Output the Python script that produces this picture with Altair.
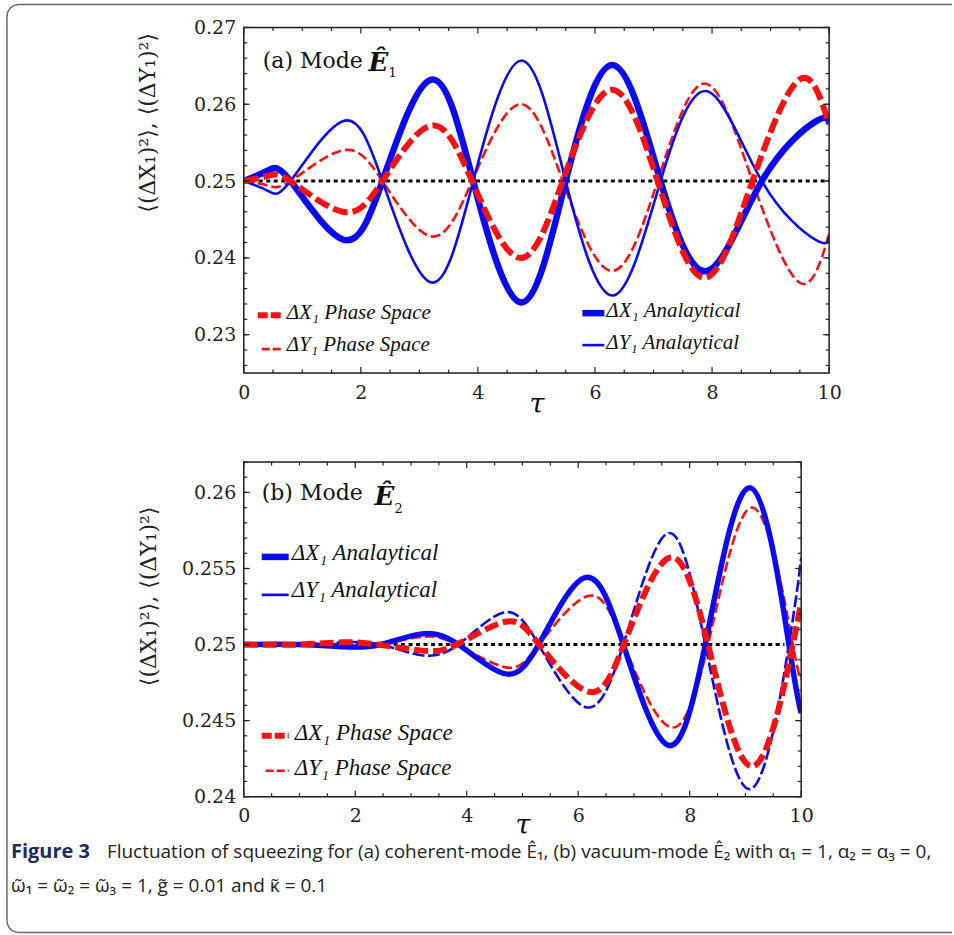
import altair as alt
import pandas as pd

# ---------------- panel (a): coherent mode E1 ----------------
a_t_analytical = [0, 0.42, 0.8, 1.69, 2.37, 3.2, 3.92, 4.74, 5.5, 6.31, 7.12, 7.92, 8.85, 9.78, 10]
a_dx_analytical = [0.25, 0.2514, 0.25, 0.2424, 0.25, 0.2632, 0.25, 0.2342, 0.25, 0.2651, 0.25, 0.2383, 0.25, 0.2578, 0.2575]
a_dy_analytical = [0.25, 0.2487, 0.25, 0.2578, 0.25, 0.2368, 0.25, 0.2657, 0.25, 0.2351, 0.25, 0.2617, 0.25, 0.2423, 0.2428]

a_t_phase = [0, 0.42, 0.8, 1.69, 2.37, 3.2, 3.9, 4.71, 5.45, 6.28, 7.07, 7.87, 8.69, 9.49, 10]
a_dx_phase = [0.25, 0.2507, 0.25, 0.2460, 0.25, 0.2572, 0.25, 0.2400, 0.25, 0.2619, 0.25, 0.2374, 0.25, 0.2632, 0.2574]
a_dy_phase = [0.25, 0.2494, 0.25, 0.2540, 0.25, 0.2428, 0.25, 0.2600, 0.25, 0.2383, 0.25, 0.2627, 0.25, 0.2368, 0.2431]

a_ref_t = [0, 10]
a_ref_v = [0.25, 0.25]

# ---------------- panel (b): vacuum mode E2 ----------------
b_t_analytical = [0, 1.0, 1.8, 2.45, 3.19, 3.85, 4.66, 5.29, 6.12, 6.81, 7.6, 8.28, 9.09, 9.78, 10]
b_dx_analytical = [0.25, 0.25, 0.24985, 0.25, 0.2507, 0.25, 0.2481, 0.25, 0.2544, 0.25, 0.2434, 0.25, 0.2603, 0.25, 0.2455]
b_dy_analytical = [0.25, 0.25, 0.25015, 0.25, 0.2493, 0.25, 0.2521, 0.25, 0.2459, 0.25, 0.2573, 0.25, 0.2405, 0.25, 0.2557]

b_t_phase = [0, 1.0, 1.8, 2.4, 3.2, 3.82, 4.7, 5.3, 6.18, 6.82, 7.63, 8.33, 9.14, 9.85, 10]
b_dx_phase = [0.25, 0.25, 0.25015, 0.25, 0.2496, 0.25, 0.2515, 0.25, 0.2469, 0.25, 0.2557, 0.25, 0.2420, 0.25, 0.2527]
b_dy_phase = [0.25, 0.25, 0.2499, 0.25, 0.2505, 0.25, 0.2485, 0.25, 0.2532, 0.25, 0.2446, 0.25, 0.2590, 0.25, 0.2481]

b_ref_t = [0, 9.7]
b_ref_v = [0.25, 0.25]

# ---------------- axes ----------------
x_major = [0, 2, 4, 6, 8, 10]
x_minor = [0.5, 1, 1.5, 2.5, 3, 3.5, 4.5, 5, 5.5, 6.5, 7, 7.5, 8.5, 9, 9.5]
a_y_major = [0.23, 0.24, 0.25, 0.26, 0.27]
a_y_minor = [round(0.226 + 0.002 * i, 3) for i in range(23)]
b_y_major = [0.24, 0.245, 0.25, 0.255, 0.26]
b_y_minor = [round(0.24 + 0.001 * i, 3) for i in range(23)]

X_DOMAIN = [0, 10]
A_Y_DOMAIN = [0.225, 0.27]
B_Y_DOMAIN = [0.24, 0.262]
A_W, A_H = 586, 346
B_W, B_H = 558, 335

BLUE = "#0a0af2"
RED = "#f51212"
FRAME = "#222222"
BORDER = "#6a6a6a"
SERIF = "DejaVu Serif"
LEGEND_FONT = "Liberation Serif"
SANS = "Open Sans"
Y_TITLE = "⟨(ΔX₁)²⟩, ⟨(ΔY₁)²⟩"

one_row = alt.Data(values=[{"k": 0}])


def xs():
    return alt.Scale(domain=X_DOMAIN, nice=False, zero=False)


def ys(dom):
    return alt.Scale(domain=dom, nice=False, zero=False)


def x_axis(title_y):
    return alt.Axis(
        values=x_major, format="d", ticks=False, domain=False, grid=False, labelFlush=False,
        labelFont=SERIF, labelFontSize=19, labelColor="#222", labelPadding=10,
        title="τ", titleFont=SERIF, titleFontStyle="italic", titleFontWeight="normal",
        titleFontSize=27, titleColor="#111", titleY=title_y, titleBaseline="middle")


def y_axis(values, fmt, tx, ty):
    return alt.Axis(
        values=values, format=fmt, ticks=False, domain=False, grid=False,
        labelFont=SERIF, labelFontSize=19, labelColor="#222", labelPadding=8,
        title=Y_TITLE, titleFont=SERIF, titleFontWeight="normal",
        titleFontSize=22, titleColor="#222", titleAngle=270, titleAlign="center",
        titleBaseline="middle", titleX=tx, titleY=ty)


class Panel:
    def __init__(self, ydom, w, h, xax, yax):
        self.ydom, self.w, self.h, self.xax, self.yax = ydom, w, h, xax, yax

    def X(self, field="t:Q"):
        return alt.X(field, scale=xs(), axis=self.xax)

    def Y(self, field="v:Q"):
        return alt.Y(field, scale=ys(self.ydom), axis=self.yax)

    def curve(self, t, v, color, width, dash=None):
        props = dict(color=color, strokeWidth=width, interpolate="natural", clip=True, strokeCap="butt")
        if dash:
            props["strokeDash"] = dash
        return alt.Chart(pd.DataFrame({"t": t, "v": v})).mark_line(**props).encode(
            x=self.X(), y=self.Y())

    def ticks(self, ymajor, yminor):
        layers = []
        for vals, ln in ((ymajor, 6), (yminor, 3.5)):
            df = pd.DataFrame({"v": vals})
            for x0, x1 in ((0, ln), (self.w - ln, self.w)):
                layers.append(alt.Chart(df).mark_rule(color=FRAME, strokeWidth=1.2).encode(
                    y=self.Y(), x=alt.value(x0), x2=alt.value(x1)))
        for vals, ln in ((x_major, 6), (x_minor, 3.5)):
            df = pd.DataFrame({"t": vals})
            for y0, y1 in ((0, ln), (self.h - ln, self.h)):
                layers.append(alt.Chart(df).mark_rule(color=FRAME, strokeWidth=1.2).encode(
                    x=self.X(), y=alt.value(y0), y2=alt.value(y1)))
        # plot frame
        layers.append(alt.Chart(one_row).mark_rect(
            filled=False, stroke=FRAME, strokeWidth=1.5, fill=None).encode(
            x=alt.value(0), x2=alt.value(self.w), y=alt.value(0), y2=alt.value(self.h)))
        return layers


def swatch(x0, x1, y, color, width, dash=None):
    props = dict(color=color, strokeWidth=width, strokeCap="butt")
    if dash:
        props["strokeDash"] = dash
    return alt.Chart(one_row).mark_rule(**props).encode(
        x=alt.value(x0), x2=alt.value(x1), y=alt.value(y))


def label(txt, x, y, size, font=SERIF, style="normal", weight="normal", baseline="middle", color="#111"):
    return alt.Chart(one_row).mark_text(
        text=txt, font=font, fontSize=size, fontStyle=style, fontWeight=weight,
        align="left", baseline=baseline, color=color
    ).encode(x=alt.value(x), y=alt.value(y))


def legend_text(txt, x, y, size=21):
    return label(txt, x, y, size, font=LEGEND_FONT, style="italic")


# ---------------- panel (a) ----------------
pa = Panel(A_Y_DOMAIN, A_W, A_H, x_axis(31), y_axis(a_y_major, ".2f", -96, 95))
top_layers = [
    alt.Chart(pd.DataFrame({"t": a_ref_t, "v": a_ref_v})).mark_line(
        color="black", strokeWidth=3, strokeDash=[4, 3.5], clip=True).encode(x=pa.X(), y=pa.Y()),
    pa.curve(a_t_phase, a_dy_phase, RED, 2.6, [10, 4]),
    pa.curve(a_t_analytical, a_dy_analytical, BLUE, 2.6),
    pa.curve(a_t_analytical, a_dx_analytical, BLUE, 6.5),
    pa.curve(a_t_phase, a_dx_phase, RED, 6, [15, 5]),
]
top_layers += pa.ticks(a_y_major, a_y_minor)
top_layers += [
    label("(a) Mode", 19, 41, 22, baseline="alphabetic"),
    label("Ê", 125, 44, 26, style="italic", weight="bold", baseline="alphabetic"),
    label("1", 145, 50, 13, baseline="alphabetic"),
    swatch(14, 38, 288, RED, 6, [10, 3]),
    legend_text("ΔX₁ Phase Space", 43, 286),
    swatch(18, 38, 322, RED, 2.6, [8, 3]),
    legend_text("ΔY₁ Phase Space", 43, 318),
    swatch(339, 361, 286, BLUE, 6.5),
    legend_text("ΔX₁ Analaytical", 363, 284),
    swatch(339, 361, 318, BLUE, 2.6),
    legend_text("ΔY₁ Analaytical", 363, 316),
]

# rounded outer border of the figure box (top panel origin sits at page 244, 27)
top_layers += [
    alt.Chart(one_row).mark_rule(color="white", opacity=0, strokeWidth=1).encode(
        x=alt.value(-243.5), x2=alt.value(-242.5), y=alt.value(-26.5)),
    alt.Chart(one_row).mark_rule(color=BORDER, strokeWidth=1.5).encode(
        x=alt.value(-237), y=alt.value(-11), y2=alt.value(894)),
    alt.Chart(one_row).mark_rule(color=BORDER, strokeWidth=1.5).encode(
        x=alt.value(-225), x2=alt.value(709), y=alt.value(-23)),
    alt.Chart(one_row).mark_rule(color=BORDER, strokeWidth=1.5).encode(
        x=alt.value(-225), x2=alt.value(709), y=alt.value(906)),
    alt.Chart(one_row).mark_arc(color=BORDER, radius=12.75, radius2=11.25,
                                theta=4.712389, theta2=6.283185).encode(
        x=alt.value(-225), y=alt.value(-11)),
    alt.Chart(one_row).mark_arc(color=BORDER, radius=12.75, radius2=11.25,
                                theta=3.141593, theta2=4.712389).encode(
        x=alt.value(-225), y=alt.value(894)),
]

top = alt.layer(*top_layers).properties(width=A_W, height=A_H)

# ---------------- panel (b) ----------------
pb = Panel(B_Y_DOMAIN, B_W, B_H, x_axis(29), y_axis(b_y_major, "~g", -95, 134))
bot_layers = [
    alt.Chart(pd.DataFrame({"t": b_ref_t, "v": b_ref_v})).mark_line(
        color="black", strokeWidth=3, strokeDash=[4, 3.5], clip=True).encode(x=pb.X(), y=pb.Y()),
    pb.curve(b_t_phase, b_dy_phase, RED, 2.6, [10, 4]),
    pb.curve(b_t_analytical, b_dy_analytical, BLUE, 2.6, [12, 3.5]),
    pb.curve(b_t_analytical, b_dx_analytical, BLUE, 5.5),
    pb.curve(b_t_phase, b_dx_phase, RED, 6, [14, 5]),
]
bot_layers += pb.ticks(b_y_major, b_y_minor)
bot_layers += [
    label("(b) Mode", 18, 38, 22, baseline="alphabetic"),
    label("Ê", 131, 43, 26, style="italic", weight="bold", baseline="alphabetic"),
    label("2", 151, 51, 13, baseline="alphabetic"),
    swatch(18, 45, 95, BLUE, 6.5),
    legend_text("ΔX₁ Analaytical", 48, 91, 23),
    swatch(18, 45, 133, BLUE, 2.6),
    legend_text("ΔY₁ Analaytical", 48, 128, 23),
    swatch(18, 45, 274, RED, 6, [10, 3]),
    legend_text("ΔX₁ Phase Space", 51, 271, 23),
    swatch(22, 45, 309, RED, 2.6, [8, 3]),
    legend_text("ΔY₁ Phase Space", 51, 306, 23),
    # figure caption (bottom panel origin sits at page 245, 462)
    label("Figure 3", -233, 390, 20, font=SANS, weight="bold", color="#1c2c5c"),
    label("Fluctuation of squeezing for (a) coherent-mode Ê₁, (b) vacuum-mode Ê₂ with α₁ = 1, α₂ = α₃ = 0,",
          -137, 390, 19, font=SANS, color="#222"),
    label("ω̃₁ = ω̃₂ = ω̃₃ = 1, g̃ = 0.01 and κ̃ = 0.1", -233, 424, 19, font=SANS, color="#222"),
]

bottom = alt.layer(*bot_layers).properties(width=B_W, height=B_H)

chart = alt.vconcat(top, bottom, spacing=89, bounds="flush").properties(
    padding={"left": 0, "top": 0, "right": 0, "bottom": 0}
).configure_view(stroke=None).configure(background="white")

chart.save("out.html", embed_options={"renderer": "svg", "actions": False})
